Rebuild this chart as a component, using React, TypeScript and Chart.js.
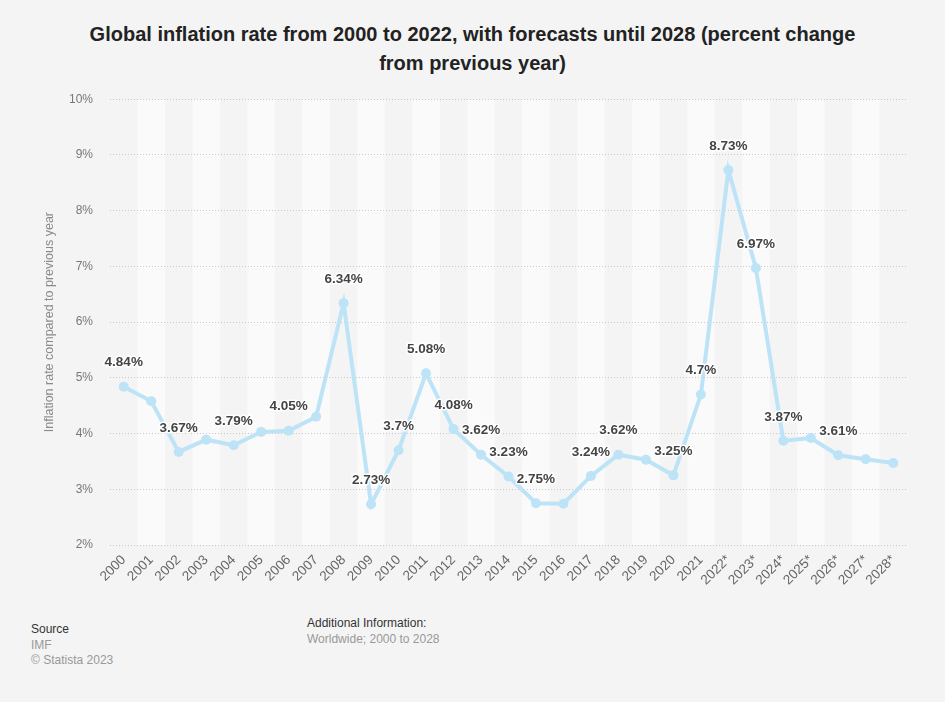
import React, { useEffect, useRef } from "react";
import { Chart, registerables } from "chart.js";

Chart.register(...registerables);

const years: string[] = [
  "2000", "2001", "2002", "2003", "2004", "2005", "2006", "2007", "2008", "2009",
  "2010", "2011", "2012", "2013", "2014", "2015", "2016", "2017", "2018", "2019",
  "2020", "2021", "2022*", "2023*", "2024*", "2025*", "2026*", "2027*", "2028*",
];

const inflation: number[] = [
  4.84, 4.58, 3.67, 3.89, 3.79, 4.03, 4.05, 4.3, 6.34, 2.73,
  3.7, 5.08, 4.08, 3.62, 3.23, 2.75, 2.74, 3.24, 3.62, 3.53,
  3.25, 4.7, 8.73, 6.97, 3.87, 3.92, 3.61, 3.54, 3.47,
];

const labeledYears: string[] = [
  "2000", "2002", "2004", "2006", "2008", "2009", "2010", "2011", "2012", "2013",
  "2014", "2015", "2017", "2018", "2020", "2021", "2022*", "2023*", "2024*", "2026*",
];

const yTicks: number[] = [2, 3, 4, 5, 6, 7, 8, 9, 10];

const FONT = "'Liberation Sans', Arial, Helvetica, sans-serif";

const stripePlugin = {
  id: "stripes",
  beforeDraw(chart: any) {
    const { ctx, chartArea, scales } = chart;
    const x = scales.x;
    const n = years.length;
    const w = (chartArea.right - chartArea.left) / n;
    ctx.save();
    ctx.fillStyle = "#fafafa";
    for (let i = 0; i < n; i++) {
      if (i % 2 === 1) {
        const cx = x.getPixelForValue(i);
        ctx.fillRect(cx - w / 2, chartArea.top, w, chartArea.bottom - chartArea.top);
      }
    }
    ctx.restore();
  },
};

const labelPlugin = {
  id: "pointLabels",
  afterDatasetsDraw(chart: any) {
    const { ctx } = chart;
    const meta = chart.getDatasetMeta(0);
    ctx.save();
    ctx.font = `bold 13.5px ${FONT}`;
    ctx.textAlign = "center";
    ctx.textBaseline = "middle";
    ctx.lineJoin = "round";
    meta.data.forEach((pt: any, i: number) => {
      if (!labeledYears.includes(years[i])) return;
      const text = `${inflation[i]}%`;
      const y = pt.y - 24;
      ctx.strokeStyle = "rgba(255,255,255,0.9)";
      ctx.lineWidth = 3;
      ctx.strokeText(text, pt.x, y);
      ctx.fillStyle = "#444";
      ctx.fillText(text, pt.x, y);
    });
    ctx.restore();
  },
};

function App() {
  const canvasRef = useRef<HTMLCanvasElement | null>(null);

  useEffect(() => {
    if (!canvasRef.current) return;
    const chart = new Chart(canvasRef.current, {
      type: "line",
      data: {
        labels: years,
        datasets: [
          {
            data: inflation,
            borderColor: "#bde3f7",
            backgroundColor: "#bde3f7",
            borderWidth: 4,
            pointRadius: 5,
            pointBorderWidth: 0,
            pointBackgroundColor: "#bde3f7",
            tension: 0,
          },
        ],
      },
      options: {
        animation: false,
        responsive: true,
        maintainAspectRatio: false,
        layout: { padding: { top: 3, right: 38, left: 0, bottom: 0 } },
        plugins: {
          legend: { display: false },
          tooltip: { enabled: false },
        },
        scales: {
          x: {
            type: "category",
            offset: true,
            grid: { display: false, drawTicks: false },
            border: { display: false },
            ticks: {
              color: "#666",
              font: { family: FONT, size: 13.5 },
              minRotation: 45,
              maxRotation: 45,
              autoSkip: false,
              padding: 7,
            },
            afterFit(scale: any) {
              scale.height = 65;
            },
          },
          y: {
            min: 2,
            max: 10,
            afterBuildTicks(scale: any) {
              scale.ticks = yTicks.map((v) => ({ value: v }));
            },
            ticks: {
              color: "#777",
              font: { family: FONT, size: 12 },
              padding: 17,
              callback: (v: any) => `${v}%`,
            },
            grid: { color: "#c8c8c8", lineWidth: 1, drawTicks: false },
            border: { display: false, dash: [1, 2] },
            title: {
              display: true,
              text: "Inflation rate compared to previous year",
              color: "#8a8a8a",
              font: { family: FONT, size: 12.5 },
              padding: { top: 42, bottom: 0 },
            },
            afterFit(scale: any) {
              scale.width = 110;
            },
          },
        },
      },
      plugins: [stripePlugin, labelPlugin],
    });
    return () => chart.destroy();
  }, []);

  return (
    <div
      style={{
        position: "fixed",
        left: 0,
        top: 0,
        width: 945,
        height: 702,
        background: "#f4f4f4",
        fontFamily: FONT,
        overflow: "hidden",
      }}
    >
      <div
        style={{
          position: "absolute",
          left: 0,
          top: 20,
          width: 945,
          textAlign: "center",
          fontWeight: "bold",
          fontSize: 20,
          lineHeight: "29px",
          color: "#222",
        }}
      >
        Global inflation rate from 2000 to 2022, with forecasts until 2028 (percent change
        <br />
        from previous year)
      </div>
      <div style={{ position: "absolute", left: 0, top: 75, width: 945, height: 535 }}>
        <canvas ref={canvasRef} />
      </div>
      <div style={{ position: "absolute", left: 31, top: 622, fontSize: 12, lineHeight: "15.5px" }}>
        <div style={{ color: "#333" }}>Source</div>
        <div style={{ color: "#999" }}>IMF</div>
        <div style={{ color: "#999" }}>© Statista 2023</div>
      </div>
      <div style={{ position: "absolute", left: 307, top: 616, fontSize: 12, lineHeight: "15.5px" }}>
        <div style={{ color: "#333" }}>Additional Information:</div>
        <div style={{ color: "#999" }}>Worldwide; 2000 to 2028</div>
      </div>
    </div>
  );
}

export default App;
